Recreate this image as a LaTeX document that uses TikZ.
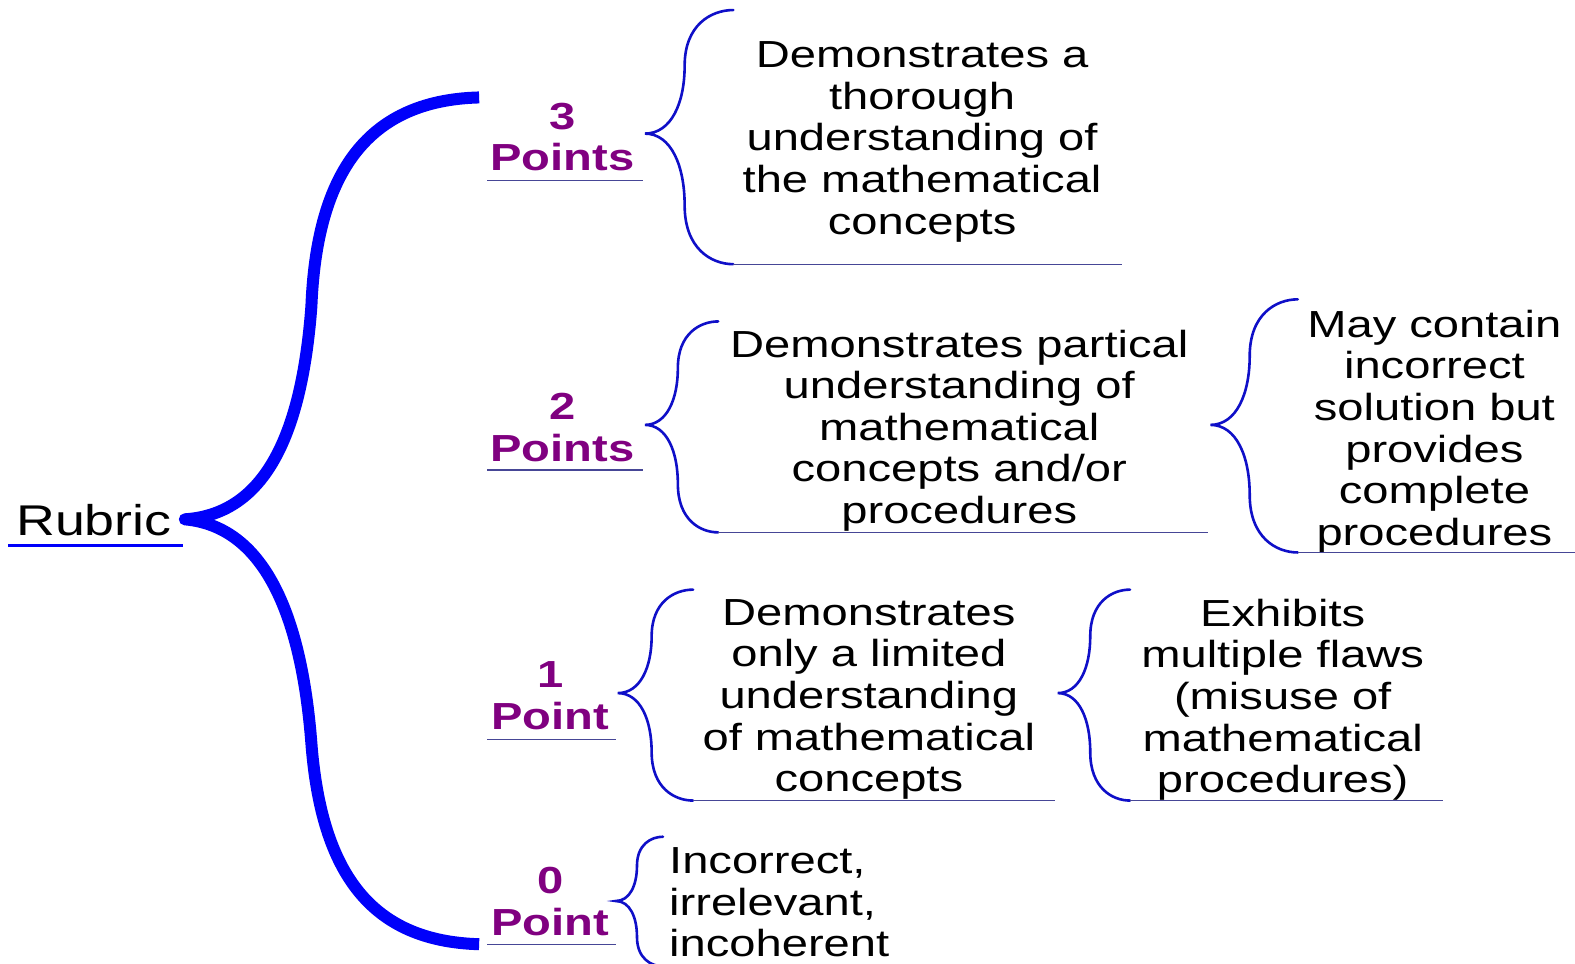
\documentclass[tikz,border=0pt]{standalone}
\usepackage{fontspec}
\setmainfont{Liberation Sans}[FakeStretch=1.25]
\definecolor{bigblue}{RGB}{0,0,250}
\definecolor{brblue}{RGB}{15,15,200}
\definecolor{ptpurple}{RGB}{128,0,128}
\definecolor{ulcol}{RGB}{70,70,150}
\newcommand{\smbrace}[5]{%
  \pgfmathsetmacro\bd{#1-#3}%
  \pgfmathsetmacro\bxm{#3+0.45*\bd}%
  \pgfmathsetmacro\bhu{#4-#2}%
  \pgfmathsetmacro\bhl{#5-#4}%
  \draw[smallbrace] (#1,#2) .. controls ({\bxm+0.3*\bd},#2) and (\bxm,{#2+0.12*\bhu}) .. (\bxm,{#2+0.45*\bhu})
    .. controls (\bxm,{#4-0.25*\bhu}) and ({\bxm-0.15*\bd},#4) .. (#3,#4)
    .. controls ({\bxm-0.15*\bd},#4) and (\bxm,{#4+0.25*\bhl}) .. (\bxm,{#5-0.45*\bhl})
    .. controls (\bxm,{#5-0.12*\bhl}) and ({\bxm+0.3*\bd},#5) .. (#1,#5);}
\begin{document}
\begin{tikzpicture}[x=1.0045pt,y=-1.0045pt,
  desc/.style={inner sep=0pt, align=center, font=\fontsize{37.7}{41.6}\selectfont},
  pts/.style={inner sep=0pt, align=center, text=ptpurple, font=\fontsize{37.7}{41.6}\selectfont\bfseries},
  smallbrace/.style={brblue, line width=2.6pt, line cap=round},
  uline/.style={ulcol, line width=1.3pt},
  bigbrace/.style={bigblue, line width=12pt, line join=round}]
\useasboundingbox (0,0) rectangle (1568,959);
\fill[white] (0,0) rectangle (1568,959);

% root
\node[anchor=base west, inner sep=0pt, font=\fontsize{43}{50}\selectfont] (rubric) at (16,533) {Rubric};
\draw[bigblue, line width=3pt] (8,543) -- (182,543);

% big brace
\coordinate (tip) at (184,517);
\coordinate (top3) at (477,97);
\coordinate (bot0) at (477,940);
\draw[bigbrace] (top3) .. controls (360,100) and (315,180) .. (310,305)
  .. controls (300,440) and (260,512) .. (tip)
  .. controls (262,524) and (300,610) .. (310,740)
  .. controls (320,870) and (370,937) .. (bot0);

% point labels
\node[pts] (p3) at (560,141) {\strut 3\\Points\strut};
\node[pts] (p2) at (560,430) {\strut 2\\Points\strut};
\node[pts] (p1) at (548,697) {\strut 1\\Point\strut};
\node[pts] (p0) at (548,902) {\strut 0\\Point\strut};
\draw[uline] (485,180) -- (640,180);
\draw[uline] (485,468) -- (640,468);
\draw[uline] (485,736) -- (613,736);
\draw[uline] (485,940) -- (613,940);

% braces
\smbrace{730}{10}{642}{133}{263}
\smbrace{715}{320}{642}{423}{530}
\smbrace{1292}{298}{1205}{423}{550}
\smbrace{690}{587}{615}{690}{797}
\smbrace{1125}{587}{1053}{690}{797}
\smbrace{660}{833}{613}{897}{962}

% descriptions
\node[desc] (d3) at (918,142) {\strut Demonstrates a\\thorough\\understanding of\\the mathematical\\concepts\strut};
\node[desc] (d2) at (955,430) {\strut Demonstrates partical\\understanding of\\mathematical\\concepts and/or\\procedures\strut};
\node[desc] (d2b) at (1428,431) {\strut May contain\\incorrect\\solution but\\provides\\complete\\procedures\strut};
\node[desc] (d1) at (865,697) {\strut Demonstrates\\only a limited\\understanding\\of mathematical\\concepts\strut};
\node[desc] (d1b) at (1277,698) {\strut Exhibits\\multiple flaws\\(misuse of\\mathematical\\procedures)\strut};
\node[desc, anchor=west, align=left] (d0) at (666,903) {\strut Incorrect,\\irrelevant,\\incoherent\strut};

\draw[uline] (730,263) -- (1117,263);
\draw[uline] (715,530) -- (1203,530);
\draw[uline] (1292,550) -- (1568,550);
\draw[uline] (690,797) -- (1050,797);
\draw[uline] (1125,797) -- (1437,797);
\end{tikzpicture}
\end{document}
